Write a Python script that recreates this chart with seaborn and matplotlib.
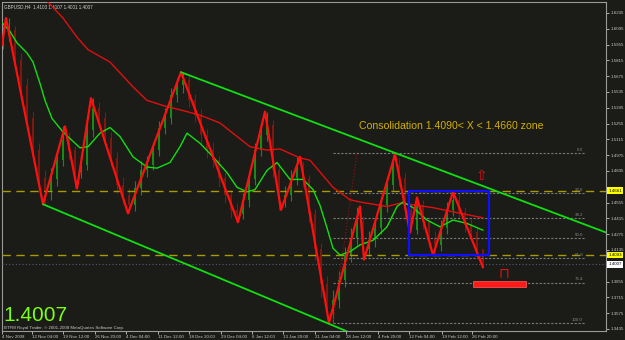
import matplotlib
matplotlib.use("Agg")
import matplotlib.pyplot as plt
import seaborn as sns
import pandas as pd
from matplotlib.patches import Rectangle

# ---------------- data (prices) ----------------
candle_bars = list(range(1, 482, 6))
first_open = 1.598
closes = [1.604, 1.608, 1.582, 1.560, 1.530, 1.502, 1.477, 1.465, 1.476, 1.493,
          1.511, 1.502, 1.483, 1.489, 1.520, 1.539, 1.530, 1.513, 1.495, 1.471,
          1.462, 1.453, 1.468, 1.484, 1.489, 1.502, 1.522, 1.530, 1.551, 1.560,
          1.564, 1.546, 1.533, 1.515, 1.502, 1.493, 1.477, 1.462, 1.449, 1.445,
          1.458, 1.476, 1.502, 1.515, 1.524, 1.484, 1.458, 1.462, 1.477, 1.486,
          1.476, 1.445, 1.414, 1.383, 1.365, 1.369, 1.387, 1.409, 1.424, 1.438,
          1.414, 1.422, 1.433, 1.453, 1.471, 1.489, 1.477, 1.449, 1.431, 1.453,
          1.438, 1.424, 1.418, 1.433, 1.449, 1.458, 1.447, 1.436, 1.429, 1.414,
          1.4007]
highs = [1.612, 1.619, 1.612, 1.588, 1.566, 1.537, 1.508, 1.484, 1.486, 1.500,
         1.523, 1.518, 1.506, 1.497, 1.527, 1.548, 1.545, 1.536, 1.518, 1.500,
         1.478, 1.468, 1.475, 1.492, 1.497, 1.509, 1.528, 1.539, 1.557, 1.566,
         1.571, 1.568, 1.552, 1.538, 1.521, 1.509, 1.497, 1.483, 1.467, 1.455,
         1.464, 1.483, 1.508, 1.523, 1.536, 1.529, 1.489, 1.470, 1.484, 1.496,
         1.492, 1.480, 1.450, 1.420, 1.390, 1.378, 1.395, 1.416, 1.433, 1.452,
         1.444, 1.430, 1.441, 1.460, 1.478, 1.498, 1.495, 1.482, 1.455, 1.460,
         1.458, 1.443, 1.430, 1.440, 1.456, 1.465, 1.463, 1.452, 1.441, 1.434,
         1.4107]
lows = [1.592, 1.599, 1.575, 1.552, 1.524, 1.495, 1.470, 1.454, 1.458, 1.470,
        1.488, 1.494, 1.468, 1.477, 1.484, 1.514, 1.522, 1.506, 1.488, 1.464,
        1.455, 1.446, 1.448, 1.462, 1.478, 1.484, 1.497, 1.516, 1.525, 1.545,
        1.553, 1.540, 1.527, 1.508, 1.495, 1.486, 1.469, 1.455, 1.442, 1.438,
        1.441, 1.452, 1.471, 1.497, 1.510, 1.478, 1.449, 1.452, 1.457, 1.471,
        1.469, 1.438, 1.405, 1.372, 1.352, 1.349, 1.362, 1.381, 1.403, 1.418,
        1.405, 1.408, 1.416, 1.428, 1.447, 1.466, 1.470, 1.441, 1.429, 1.428,
        1.432, 1.416, 1.409, 1.413, 1.428, 1.444, 1.440, 1.429, 1.421, 1.406,
        1.398]

zz_bars = [0, 4, 41, 63, 75, 89, 126, 179, 236, 263, 279, 298, 327, 358, 362,
           393, 408, 415, 431, 451, 481]
zz_prices = [1.595, 1.619, 1.454, 1.523, 1.468, 1.548, 1.446, 1.571, 1.438,
             1.536, 1.449, 1.496, 1.349, 1.452, 1.405, 1.498, 1.429, 1.460,
             1.409, 1.465, 1.398]

slow_ma_bars = [46, 61, 75, 86, 98, 108, 131, 145, 163, 181, 198, 218, 248, 265,
                278, 298, 308, 331, 348, 358, 385, 398, 415, 431, 458, 481]
slow_ma = [1.633, 1.619, 1.602, 1.591, 1.585, 1.580, 1.558, 1.546, 1.541, 1.537,
           1.533, 1.526, 1.505, 1.502, 1.503, 1.495, 1.493, 1.469, 1.458, 1.456,
           1.452, 1.455, 1.453, 1.451, 1.446, 1.442]

fast_ma_bars = [0, 8, 15, 25, 31, 38, 43, 50, 61, 78, 86, 98, 108, 118, 131, 145,
                155, 168, 178, 185, 198, 211, 225, 235, 245, 253, 265, 275, 288,
                301, 311, 318, 325, 331, 338, 348, 358, 371, 385, 395, 401, 411,
                425, 438, 451, 465, 481]
fast_ma = [1.615, 1.607, 1.597, 1.588, 1.580, 1.561, 1.546, 1.530, 1.518, 1.504,
           1.505, 1.517, 1.522, 1.514, 1.496, 1.487, 1.486, 1.491, 1.505, 1.517,
           1.508, 1.496, 1.482, 1.469, 1.465, 1.467, 1.484, 1.491, 1.476, 1.476,
           1.467, 1.453, 1.433, 1.415, 1.409, 1.412, 1.418, 1.422, 1.434, 1.452,
           1.456, 1.451, 1.440, 1.434, 1.440, 1.437, 1.431]

lower_channel_bars = [41, 346]
lower_channel = [1.454, 1.341]
upper_channel_bars = [179, 604]
upper_channel = [1.571, 1.429]

zone_high = 1.4661
zone_low = 1.4093
bid = 1.4007
fib_high = 1.4995
fib_low = 1.3488
fib_levels = [0.0, 23.6, 38.2, 50.0, 61.8, 76.4, 100.0]

date_bars = [0, 30, 61, 93, 124, 156, 187, 219, 250, 281, 313, 344, 376, 407, 440, 470]
date_labels = ["4 Nov 2008", "12 Nov 04:00", "19 Nov 12:00", "26 Nov 20:00",
               "4 Dec 04:00", "11 Dec 12:00", "18 Dec 20:00", "29 Dec 04:00",
               "6 Jan 12:00", "13 Jan 20:00", "21 Jan 04:00", "28 Jan 12:00",
               "4 Feb 20:00", "12 Feb 04:00", "19 Feb 12:00", "26 Feb 20:00"]
price_ticks = [1.6235, 1.6095, 1.5955, 1.5815, 1.5675, 1.5535, 1.5395, 1.5255,
               1.5115, 1.4975, 1.4835, 1.4555, 1.4415, 1.4275, 1.4135,
               1.3855, 1.3715, 1.3575, 1.3435]

# ---------------- style ----------------
BG = "#1b1b17"
sns.set_theme(style="dark")
plt.rcParams.update({
    "font.family": ["Liberation Sans", "DejaVu Sans"],
    "axes.facecolor": BG, "figure.facecolor": BG,
    "axes.edgecolor": "#9a9a9a", "axes.grid": False,
})

fig = plt.figure(figsize=(6.25, 3.40), dpi=100)
ax = fig.add_axes([2 / 625, 9 / 340, 604 / 625, 329 / 340])
ax.set_xlim(0, 604)
ax.set_ylim(1.3417, 1.6332)

# candles
opens = [first_open] + closes[:-1]
cdf = pd.DataFrame({"bar": candle_bars, "open": opens, "close": closes,
                    "high": highs, "low": lows})
bull = cdf["close"] >= cdf["open"]
col = ["#178a17" if b else "#7a1a10" for b in bull]
ax.vlines(cdf["bar"], cdf["low"], cdf["high"], colors=col, lw=0.8, zorder=2)
ax.bar(cdf["bar"], (cdf["close"] - cdf["open"]).abs(),
       bottom=cdf[["open", "close"]].min(axis=1), width=2, color=col,
       linewidth=0, zorder=2)

# horizontal levels
for lvl in (zone_high, zone_low):
    ax.axhline(lvl, color="#a89a00", lw=1.0, ls=(0, (6, 4)), zorder=3)
ax.axhline(bid, color="#5a5a7a", lw=0.8, ls=(0, (1, 2)), zorder=3)

# fibonacci
fib_x0, fib_x1 = 331, 583
for r in fib_levels:
    p = fib_high - (fib_high - fib_low) * r / 100
    ax.hlines(p, fib_x0, fib_x1, color="#7a7a7a", lw=0.8, ls=(0, (2, 1.5)), zorder=3)
    ax.text(fib_x1 - 2, p + 0.0012, f"{r:.1f}", color="#8a8a8a", fontsize=3.2,
            ha="right", va="bottom", zorder=4)
ax.plot([fib_x0, 355], [fib_low, fib_high], color="#8a1010", lw=0.9,
        ls=(0, (1, 1.5)), zorder=3)

# moving averages, zigzag, channel
sns.lineplot(x=slow_ma_bars, y=slow_ma, color="#e01010", lw=1.0, ax=ax,
             estimator=None, sort=False, zorder=5)
sns.lineplot(x=fast_ma_bars, y=fast_ma, color="#10e010", lw=1.0, ax=ax,
             estimator=None, sort=False, zorder=5)
sns.lineplot(x=zz_bars, y=zz_prices, color="#ff1010", lw=1.6, ax=ax,
             estimator=None, sort=False, zorder=6)
sns.lineplot(x=lower_channel_bars, y=lower_channel, color="#10e010", lw=1.3,
             ax=ax, estimator=None, zorder=6)
sns.lineplot(x=upper_channel_bars, y=upper_channel, color="#10e010", lw=1.3,
             ax=ax, estimator=None, zorder=6)

# consolidation box
ax.add_patch(Rectangle((407, zone_low), 80, zone_high - zone_low, fill=False,
                       edgecolor="#1010ff", lw=1.6, zorder=7))
ax.text(357, 1.523, "Consolidation 1.4090< X < 1.4660 zone", color="#d2b000",
        fontsize=7.6, ha="left", va="center", zorder=8)

# arrows and target bar
ax.text(479, 1.479, "⇧", color="#e01010", fontsize=10, ha="center", va="center",
        family="DejaVu Sans", zorder=8)
ax.text(502, 1.393, "⊓", color="#e01010", fontsize=10, ha="center", va="center",
        family="DejaVu Sans", zorder=8)
ax.add_patch(Rectangle((471, 1.381), 53, 0.005, facecolor="#ff1a1a",
                       edgecolor="#ff6060", lw=0.5, zorder=8))

# texts
ax.text(0.003, 0.992, "GBPUSD,H4  1.4103 1.4107 1.4001 1.4007", color="#d0d0d0",
        fontsize=3.3, transform=ax.transAxes, ha="left", va="top")
ax.text(0.002, 0.018, "1.4007", color="#7cff10", fontsize=15,
        transform=ax.transAxes, ha="left", va="bottom")
ax.text(0.003, 0.003, "BTFM Royal Trader, © 2001-2008 MetaQuotes Software Corp.",
        color="#c8c8c8", fontsize=3.2, transform=ax.transAxes, ha="left", va="bottom")

# axes
ax.yaxis.tick_right()
ax.set_yticks(price_ticks)
ax.set_yticklabels([f"{t:.4f}" for t in price_ticks])
ax.set_xticks(date_bars)
ax.set_xticklabels(date_labels)
ax.tick_params(axis="y", colors="#c8c8c8", labelsize=3.2, length=2, width=0.6,
               pad=1.5, left=False, right=True)
ax.tick_params(axis="x", colors="#c8c8c8", labelsize=3.2, length=2, width=0.6,
               pad=0.8, bottom=True)
for lab in ax.get_xticklabels():
    lab.set_ha("left")
ax.set_xlabel("")
ax.set_ylabel("")
for s in ax.spines.values():
    s.set_color("#9a9a9a")
    s.set_linewidth(0.8)

for val, bg in ((zone_high, "#ffff00"), (zone_low, "#ffff00"), (bid, "#ffffff")):
    ax.text(1.004, val, f"{val:.4f}", transform=ax.get_yaxis_transform(),
            fontsize=3.2, color="black", ha="left", va="center", clip_on=False,
            bbox=dict(boxstyle="square,pad=0.25", facecolor=bg, edgecolor="none"),
            zorder=10)

fig.savefig("out.png", dpi=100, facecolor=BG)
